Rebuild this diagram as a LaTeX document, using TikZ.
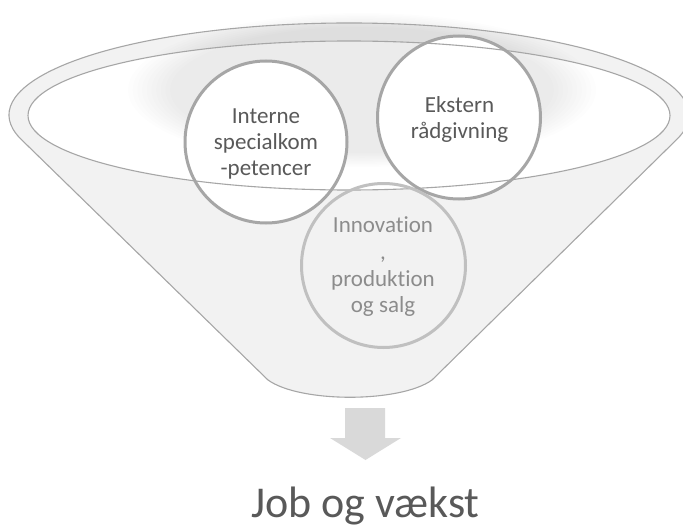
\documentclass[tikz,border=0pt]{standalone}
\usepackage{fontspec}
\setmainfont{Carlito}[Ligatures=NoCommon]
\definecolor{funnelfill}{HTML}{F2F2F2}
\definecolor{lineg}{HTML}{A6A6A6}
\definecolor{circg}{HTML}{A6A6A6}
\definecolor{circlight}{HTML}{C0C0C0}
\definecolor{txtdark}{HTML}{595959}
\definecolor{txtlight}{HTML}{8C8C8C}
\definecolor{arrowg}{HTML}{D9D9D9}
\tikzset{
  funnelline/.style={draw=lineg, line width=1.1pt},
  bigcirc/.style={circle, draw=circg, line width=3pt, fill=white, inner sep=0pt},
  lightcirc/.style={circle, draw=circlight, line width=3pt, inner sep=0pt},
  circtext/.style={align=center, inner sep=0pt, text=txtdark, font=\fontsize{23}{26}\selectfont},
  circtextlight/.style={align=center, inner sep=0pt, text=txtlight, font=\fontsize{23}{26.7}\selectfont},
  shade/.style={fill=black, opacity=0.008}
}
\begin{document}
\begin{tikzpicture}[x=1pt,y=-1pt]
\useasboundingbox (0,0) rectangle (683,527);
% funnel body
\path[fill=funnelfill] (20.3,138.5) arc[start angle=165.2, end angle=374.8, x radius=340, y radius=92]
  -- (432,380) .. controls (400,403) and (300,403) .. (268,380) -- cycle;
% inner opening
\path[fill=white] (349,115.5) ellipse [x radius=321, y radius=74.5];
% soft shadow
\foreach \s in {1.0,0.98,0.96,0.94,0.92,0.90,0.88,0.86,0.84,0.82}
  \path[shade] (362,90) ellipse [x radius={234*\s}, y radius={77*\s}];
% circles
\node[bigcirc, minimum size=162] (c1) at (266,142) {};
\node[bigcirc, minimum size=163] (c2) at (459,117.5) {};
% outlines on top
\draw[funnelline] (20.3,138.5) arc[start angle=165.2, end angle=374.8, x radius=340, y radius=92]
  -- (432,380) .. controls (400,403) and (300,403) .. (268,380) -- cycle;
\draw[funnelline] (349,115.5) ellipse [x radius=321, y radius=74.5];
\node[lightcirc, minimum size=164] (c3) at (383.5,265.5) {};
% texts
\node[circtext] (t1) at (266,143.8) {Interne\\specialkom\\-petencer};
\node[circtext] (t2) at (459.5,119.7) {Ekstern\\rådgivning};
\node[circtextlight] (t3) at (383,267) {Innovation\\,\\produktion\\og salg};
% arrow
\fill[arrowg] (345,408) -- (385,408) -- (385,438) -- (401,438) -- (365.5,460) -- (330,438) -- (345,438) -- cycle;
\node[anchor=base, inner sep=0pt, text=txtdark, font=\fontsize{44}{50}\selectfont] (result) at (365.5,517) {Job og vækst};
\end{tikzpicture}
\end{document}
